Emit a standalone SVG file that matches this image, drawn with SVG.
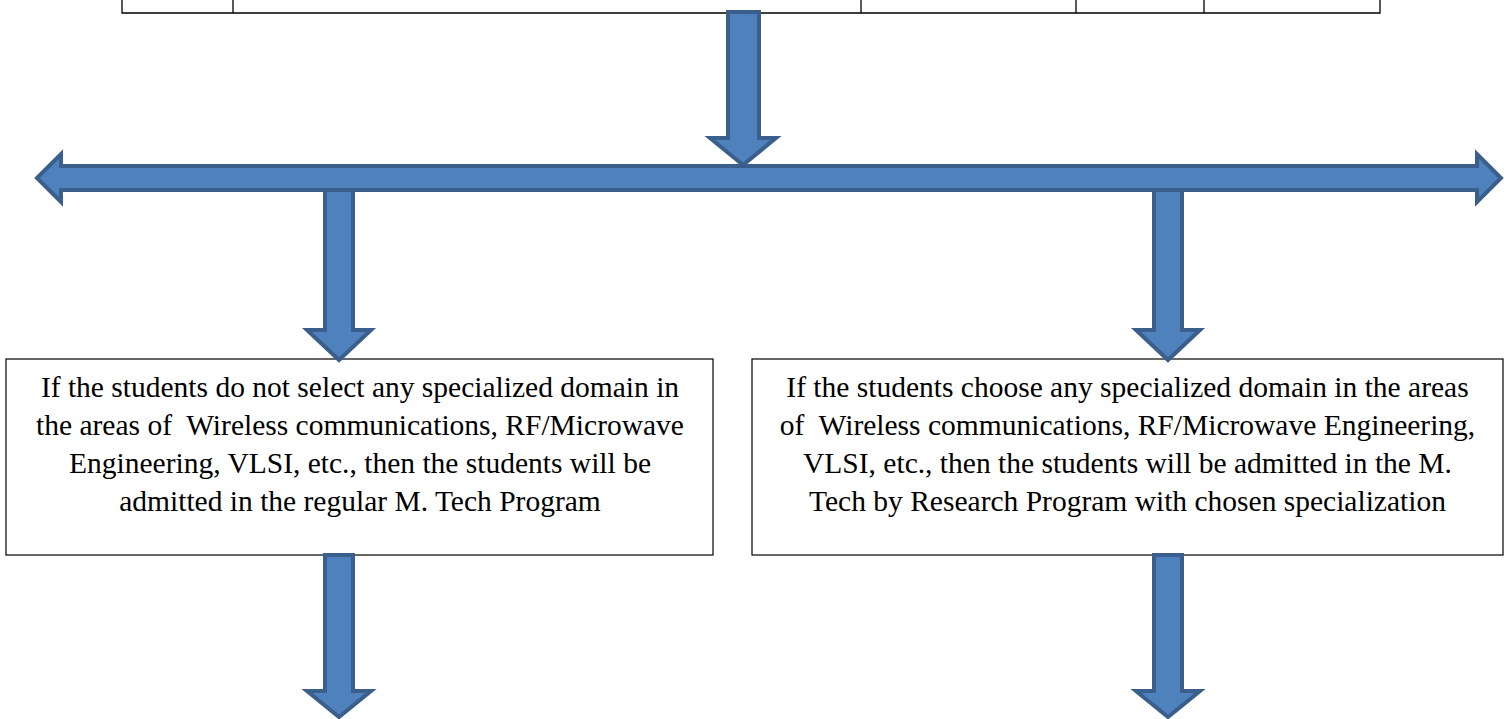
<svg xmlns="http://www.w3.org/2000/svg" width="1512" height="719" viewBox="0 0 1512 719">
<style>
.tbl{stroke:#000;stroke-width:1.3;fill:none}
.box{fill:#fff;stroke:#000;stroke-width:1.2}
.arr{fill:#4F81BD;stroke:#3A5F8D;stroke-width:4;stroke-linejoin:miter}
.t{font-family:"Liberation Serif","Times New Roman",serif;font-size:29.5px;fill:#000;text-anchor:middle;white-space:pre}
</style>
<rect width="1512" height="719" fill="#fff"/>
<g id="table">
<polyline class="tbl" points="122,0 122,13 1380,13 1380,0"/>
<line class="tbl" x1="233" y1="0" x2="233" y2="13"/>
<line class="tbl" x1="861" y1="0" x2="861" y2="13"/>
<line class="tbl" x1="1076" y1="0" x2="1076" y2="13"/>
<line class="tbl" x1="1204" y1="0" x2="1204" y2="13"/>
</g>
<g id="box-left">
<rect class="box" x="6" y="359" width="707" height="196"/>
<text class="t" x="360" y="397">If the students do not select any specialized domain in</text>
<text class="t" x="360" y="435">the areas of  Wireless communications, RF/Microwave</text>
<text class="t" x="360" y="473">Engineering, VLSI, etc., then the students will be</text>
<text class="t" x="360" y="511">admitted in the regular M. Tech Program</text>
</g>
<g id="box-right">
<rect class="box" x="752" y="359" width="751" height="196"/>
<text class="t" x="1127.5" y="397">If the students choose any specialized domain in the areas</text>
<text class="t" x="1127.5" y="435">of  Wireless communications, RF/Microwave Engineering,</text>
<text class="t" x="1127.5" y="473">VLSI, etc., then the students will be admitted in the M.</text>
<text class="t" x="1127.5" y="511">Tech by Research Program with chosen specialization</text>
</g>
<g id="connectors">
<path class="arr" d="M325,190 L353,190 L353,330 L371,330 L339,360 L307,330 L325,330 Z"/>
<path class="arr" d="M1154,190 L1182,190 L1182,330 L1200,330 L1168,360 L1136,330 L1154,330 Z"/>
<path class="arr" d="M37,178 L61,154 L61,166 L1477,166 L1477,154 L1501,178 L1477,202 L1477,190 L61,190 L61,202 Z"/>
<path class="arr" d="M728,12 L759,12 L759,138 L776,138 L743,165 L710,138 L728,138 Z"/>
<path class="arr" d="M325,555 L353,555 L353,691 L371,691 L339,717 L307,691 L325,691 Z"/>
<path class="arr" d="M1154,555 L1182,555 L1182,691 L1200,691 L1168,717 L1136,691 L1154,691 Z"/>
</g>
</svg>
